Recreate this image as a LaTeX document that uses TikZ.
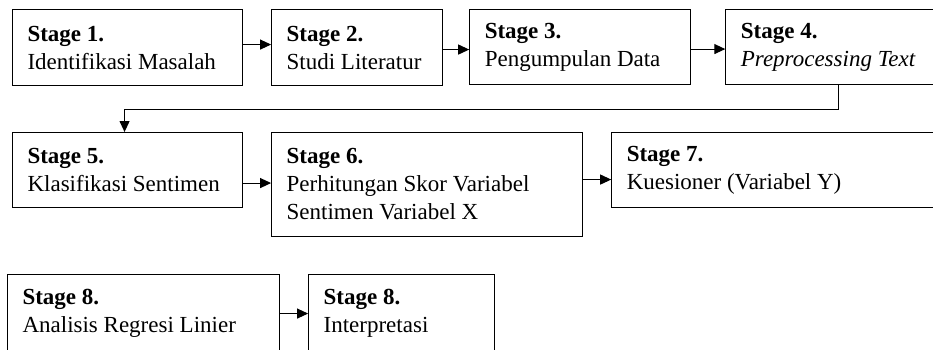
\documentclass[tikz,border=0pt]{standalone}
\usepackage{fontspec}
\setmainfont{Liberation Serif}
\usetikzlibrary{arrows.meta,positioning}

\tikzset{
  stagebox/.style={draw,line width=1.1pt,anchor=north west,align=flush left,
    inner xsep=15pt,inner ysep=0pt,minimum height=76pt,
    font=\fontsize{23}{28}\selectfont},
  flow/.style={line width=1.1pt,-{Triangle[length=11pt,width=10pt]}}
}

\begin{document}
\begin{tikzpicture}[x=1pt,y=1pt]
  \useasboundingbox (0,0) rectangle (933,-349);
  % row 1
  \node[stagebox,text width=200pt] (s1) at (12,-9)
    {\textbf{Stage 1.}\\Identifikasi Masalah};
  \node[stagebox,text width=141pt,right=28pt of s1.north east,anchor=north west] (s2)
    {\textbf{Stage 2.}\\Studi Literatur};
  \node[stagebox,text width=191pt,minimum height=75pt,right=26pt of s2.north east,anchor=north west] (s3)
    {\textbf{Stage 3.}\\Pengumpulan Data};
  \node[stagebox,text width=193pt,minimum height=75pt,right=34pt of s3.north east,anchor=north west] (s4)
    {\textbf{Stage 4.}\\\textit{Preprocessing Text}};
  % row 2
  \node[stagebox,text width=200pt,minimum height=75pt] (s5) at (12,-132)
    {\textbf{Stage 5.}\\Klasifikasi Sentimen};
  \node[stagebox,text width=281pt,minimum height=104pt,right=28pt of s5.north east,anchor=north west] (s6)
    {\textbf{Stage 6.}\\Perhitungan Skor Variabel\\Sentimen Variabel X};
  \node[stagebox,text width=300pt,minimum height=75pt,right=28pt of s6.north east,anchor=north west] (s7)
    {\textbf{Stage 7.}\\Kuesioner (Variabel Y)};
  % row 3
  \node[stagebox,text width=242pt,minimum height=78pt] (s8) at (7,-274)
    {\textbf{Stage 8.}\\Analisis Regresi Linier};
  \node[stagebox,text width=156pt,minimum height=78pt,right=28pt of s8.north east,anchor=north west] (s9)
    {\textbf{Stage 8.}\\Interpretasi};

  % arrows
  \draw[flow] ([yshift=3pt]s1.east) -- ([yshift=3pt]s1.east -| s2.west);
  \draw[flow] ([yshift=-2pt]s2.east) -- ([yshift=-2pt]s2.east -| s3.west);
  \draw[flow] ([yshift=-2pt]s3.east) -- ([yshift=-2pt]s3.east -| s4.west);
  \draw[flow] ([xshift=1pt]s4.south) -- ++(0,-24) -| ([xshift=-3pt]s5.north);
  \draw[flow] ([yshift=-13pt]s5.east) -- ([yshift=-13pt]s5.east -| s6.west);
  \draw[flow] ([yshift=5pt]s6.east) -- ([yshift=5pt]s6.east -| s7.west);
  \draw[flow] (s8.east) -- (s8.east -| s9.west);
\end{tikzpicture}
\end{document}
